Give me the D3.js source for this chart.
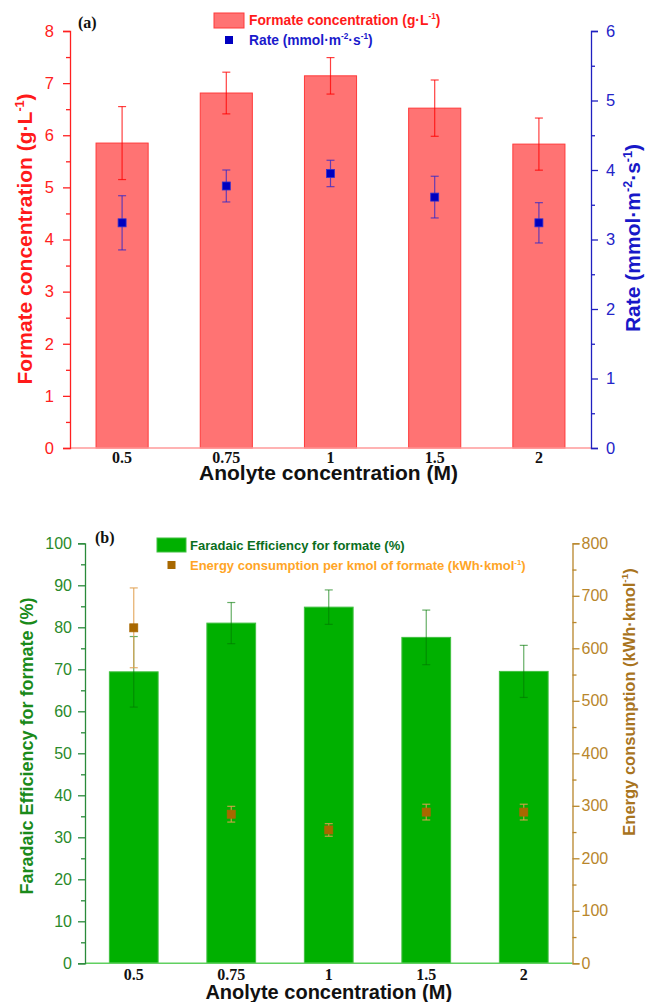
<!DOCTYPE html>
<html><head><meta charset="utf-8">
<script src="https://cdn.jsdelivr.net/npm/d3@7"></script>
<style>body{margin:0;background:#fff}svg{display:block}</style>
</head><body>
<svg id="c" width="646" height="1002"></svg>
<script>
const categories = ["0.5","0.75","1","1.5","2"];
const formate = [5.85, 6.81, 7.14, 6.52, 5.83];
const formateErr = [0.70, 0.40, 0.35, 0.54, 0.50];
const rate = [3.24, 3.77, 3.95, 3.61, 3.24];
const rateErr = [0.39, 0.23, 0.19, 0.30, 0.29];
const fe = [69.4, 81.0, 84.8, 77.6, 69.5];
const feErr = [8.4, 4.9, 4.1, 6.5, 6.2];
const energy = [639, 284, 254, 288, 288];
const energyErr = [76, 15, 12, 15, 15];
const ticksA_L = [0,1,2,3,4,5,6,7,8];
const ticksA_R = [0,1,2,3,4,5,6];
const ticksB_L = [0,10,20,30,40,50,60,70,80,90,100];
const ticksB_R = [0,100,200,300,400,500,600,700,800];

const svg = d3.select("#c");
const SANS = "'Liberation Sans', Arial, sans-serif";
const SERIF = "'Liberation Serif', 'Times New Roman', serif";

function minors(t){ const s=t[1]-t[0]; return t.slice(0,-1).map(v=>v+s/2); }

function panel(o){
  const g = svg.append("g");
  const x = d3.scaleBand().domain(categories).range([o.x0,o.x1]).padding(0.5).paddingOuter(0.25);
  const yL = d3.scaleLinear().domain([0,o.ticksL[o.ticksL.length-1]]).range([o.y0,o.y1]);
  const yR = d3.scaleLinear().domain([0,o.ticksR[o.ticksR.length-1]]).range([o.y0,o.y1]);

  g.selectAll(".bar").data(categories).enter().append("rect")
    .attr("x",d=>x(d)).attr("width",x.bandwidth())
    .attr("y",(d,i)=>yL(o.bars[i])).attr("height",(d,i)=>o.y0-yL(o.bars[i]))
    .attr("fill",o.barFill).attr("stroke",o.barStroke).attr("stroke-width",1);

  const cap=4;
  categories.forEach((c,i)=>{
    const cx=x(c)+x.bandwidth()/2, hi=yL(o.bars[i]+o.barErr[i]), lo=yL(o.bars[i]-o.barErr[i]);
    g.append("line").attr("x1",cx).attr("x2",cx).attr("y1",hi).attr("y2",lo).attr("stroke",o.barErrColor).attr("stroke-width",1.2);
    [hi,lo].forEach(yy=>g.append("line").attr("x1",cx-cap).attr("x2",cx+cap).attr("y1",yy).attr("y2",yy).attr("stroke",o.barErrColor).attr("stroke-width",1.2));
  });
  categories.forEach((c,i)=>{
    const cx=x(c)+x.bandwidth()/2, hi=yR(o.pts[i]+o.ptErr[i]), lo=yR(o.pts[i]-o.ptErr[i]);
    g.append("line").attr("x1",cx).attr("x2",cx).attr("y1",hi).attr("y2",lo).attr("stroke",o.ptErrColor).attr("stroke-width",1.2);
    [hi,lo].forEach(yy=>g.append("line").attr("x1",cx-cap).attr("x2",cx+cap).attr("y1",yy).attr("y2",yy).attr("stroke",o.ptErrColor).attr("stroke-width",1.2));
    g.append("rect").attr("x",cx-4).attr("y",yR(o.pts[i])-4).attr("width",8).attr("height",8)
      .attr("fill",o.ptFill).attr("stroke",o.ptStroke).attr("stroke-width",0.8);
  });

  g.append("line").attr("x1",o.x0).attr("x2",o.x1).attr("y1",o.y0).attr("y2",o.y0).attr("stroke",o.baseColor).attr("stroke-width",1.5);

  const fmt = d3.format("d");
  const aL = g.append("g").attr("transform",`translate(${o.x0},0)`)
    .call(d3.axisLeft(yL).tickValues(o.ticksL).tickSize(7).tickPadding(o.padL).tickFormat(fmt));
  aL.select(".domain").attr("stroke",o.lColor).attr("stroke-width",1.3);
  aL.selectAll(".tick line").attr("stroke",o.lColor).attr("stroke-width",1.3);
  aL.selectAll(".tick text").attr("fill",o.lText).attr("font-family",SANS).attr("font-size",o.tickSize);
  const mL = g.append("g").attr("transform",`translate(${o.x0},0)`)
    .call(d3.axisLeft(yL).tickValues(minors(o.ticksL)).tickSize(4).tickFormat(""));
  mL.select(".domain").remove();
  mL.selectAll(".tick line").attr("stroke",o.lColor).attr("stroke-width",1.3);

  const aR = g.append("g").attr("transform",`translate(${o.x1},0)`)
    .call(d3.axisRight(yR).tickValues(o.ticksR).tickSize(7).tickPadding(o.padR).tickFormat(fmt));
  aR.select(".domain").attr("stroke",o.rColor).attr("stroke-width",1.3);
  aR.selectAll(".tick line").attr("stroke",o.rColor).attr("stroke-width",1.3);
  aR.selectAll(".tick text").attr("fill",o.rText).attr("font-family",SANS).attr("font-size",o.tickSize);
  const mR = g.append("g").attr("transform",`translate(${o.x1},0)`)
    .call(d3.axisRight(yR).tickValues(minors(o.ticksR)).tickSize(4).tickFormat(""));
  mR.select(".domain").remove();
  mR.selectAll(".tick line").attr("stroke",o.rColor).attr("stroke-width",1.3);

  g.selectAll(".xl").data(categories).enter().append("text")
    .attr("x",d=>x(d)+x.bandwidth()/2).attr("y",o.y0+o.xlDy)
    .attr("text-anchor","middle").attr("font-family",SERIF).attr("font-weight","bold").attr("font-size",16)
    .attr("fill","#111").text(d=>d);
  g.append("text").attr("x",(o.x0+o.x1)/2 + o.xtDx).attr("y",o.y0+o.xtDy).attr("text-anchor","middle")
    .attr("font-family",SANS).attr("font-weight","bold").attr("font-size",o.xtSize).attr("fill","#111")
    .text("Anolyte concentration (M)");

  g.append("text").attr("x",o.letterX).attr("y",o.letterY).attr("font-family",SERIF).attr("font-weight","bold")
    .attr("font-size",16).attr("fill","#111").text(o.letter);

  function title(tx,ty,parts,color,size){
    const t = g.append("text").attr("transform",`translate(${tx},${ty}) rotate(-90)`).attr("text-anchor","middle")
      .attr("font-family",SANS).attr("font-weight","bold").attr("font-size",size).attr("fill",color);
    parts.forEach(p=>{
      if(p.sup) t.append("tspan").attr("font-size",size*0.6).attr("dy",-size*0.4).text(p.t);
      else t.append("tspan").attr("dy", p.after? size*0.4:0).text(p.t);
    });
  }
  title(o.ltX,o.ltY,o.lTitle,o.lTitleColor,o.lTitleSize);
  title(o.rtX,o.rtY,o.rTitle,o.rTitleColor,o.rTitleSize);

  const lg = g.append("g");
  lg.append("rect").attr("x",o.legX).attr("y",o.legY).attr("width",o.legW).attr("height",o.legH)
    .attr("fill",o.barFill).attr("stroke",o.barStroke);
  lg.append("rect").attr("x",o.legX+o.legW/2-4).attr("y",o.legY2-4).attr("width",8).attr("height",8).attr("fill",o.ptFill);
  function legText(tx,ty,parts,color){
    const fs=o.legSize;
    const t = lg.append("text").attr("x",tx).attr("y",ty).attr("font-family",SANS).attr("font-weight","bold")
      .attr("font-size",fs).attr("fill",color);
    parts.forEach(p=>{
      if(p.sup) t.append("tspan").attr("font-size",fs*0.6).attr("dy",-fs*0.4).text(p.t);
      else t.append("tspan").attr("dy",p.after?fs*0.4:0).text(p.t);
    });
  }
  legText(o.legTX,o.legY+12,o.leg1,o.leg1Color);
  legText(o.legTX,o.legY2+5,o.leg2,o.leg2Color);
}

panel({
  x0:70, x1:591, y0:448, y1:31,
  ticksL:ticksA_L, ticksR:ticksA_R, tickSize:16.5, padL:9, padR:8,
  bars:formate, barErr:formateErr, pts:rate, ptErr:rateErr,
  barFill:"#ff7373", barStroke:"#ff3a3a", barErrColor:"rgba(255,0,0,0.75)",
  ptFill:"#0000c0", ptStroke:"#3030d0", ptErrColor:"rgba(50,40,200,0.75)",
  baseColor:"#ff9a9a",
  lColor:"#ff2020", lText:"#ff2020", rColor:"#2020c0", rText:"#2424c8",
  xlDy:15, xtDy:32, xtDx:-2, xtSize:21,
  letter:"(a)", letterX:78, letterY:28,
  ltX:32, ltY:239, lTitleColor:"#ff1a1a", lTitleSize:21,
  lTitle:[{t:"Formate concentration (g·L"},{t:"-1",sup:true},{t:")",after:true}],
  rtX:640, rtY:238, rTitleColor:"#1818c8", rTitleSize:21,
  rTitle:[{t:"Rate (mmol·m"},{t:"-2",sup:true},{t:"·s",after:true},{t:"-1",sup:true},{t:")",after:true}],
  legX:214, legY:13, legW:30, legH:15, legY2:40, legTX:249, legSize:13.8,
  leg1:[{t:"Formate concentration (g·L"},{t:"-1",sup:true},{t:")",after:true}], leg1Color:"#ff1a1a",
  leg2:[{t:"Rate (mmol·m"},{t:"-2",sup:true},{t:"·s",after:true},{t:"-1",sup:true},{t:")",after:true}], leg2Color:"#1a1acc"
});

panel({
  x0:85, x1:572.5, y0:963.3, y1:543.3,
  ticksL:ticksB_L, ticksR:ticksB_R, tickSize:16, padL:6, padR:2,
  bars:fe, barErr:feErr, pts:energy, ptErr:energyErr,
  barFill:"#00b000", barStroke:"#40c040", barErrColor:"rgba(0,120,0,0.6)",
  ptFill:"#a86800", ptStroke:"#a86800", ptErrColor:"rgba(225,160,80,0.85)",
  baseColor:"#60d060",
  lColor:"#2a8a3a", lText:"#2a8a2a", rColor:"#b8862b", rText:"#b8862b",
  xlDy:17, xtDy:36, xtDx:0, xtSize:20,
  letter:"(b)", letterX:95, letterY:543,
  ltX:33, ltY:746, lTitleColor:"#1a8a1a", lTitleSize:18,
  lTitle:[{t:"Faradaic Efficiency for formate (%)"}],
  rtX:635, rtY:702, rTitleColor:"#a8741e", rTitleSize:16.5,
  rTitle:[{t:"Energy consumption (kWh·kmol"},{t:"-1",sup:true},{t:")",after:true}],
  legX:157, legY:538, legW:29, legH:14, legY2:565, legTX:190, legSize:13,
  leg1:[{t:"Faradaic Efficiency for formate (%)"}], leg1Color:"#0a6e1e",
  leg2:[{t:"Energy consumption per kmol of formate (kWh·kmol"},{t:"-1",sup:true},{t:")",after:true}], leg2Color:"#ffa526"
});
</script>
</body></html>
